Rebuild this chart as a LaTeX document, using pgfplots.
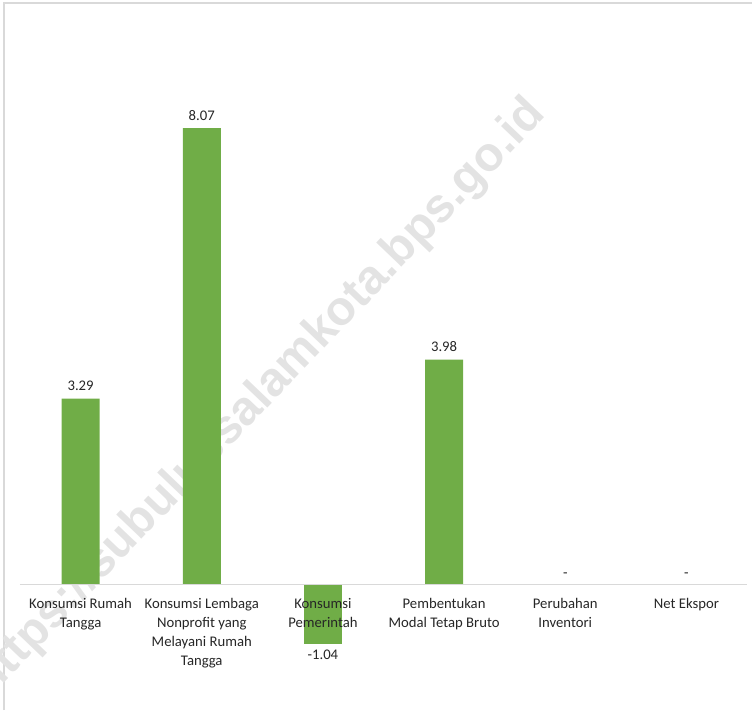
\documentclass[border=0pt]{standalone}
\usepackage{pgfplots}
\pgfplotsset{compat=1.18}
\usepackage{fontspec}
\setmainfont{Carlito}
\newfontfamily\wmfont{Liberation Sans}
\definecolor{bargreen}{HTML}{70AD47}
\definecolor{axgray}{HTML}{D9D9D9}
\definecolor{wmgray}{HTML}{E3E3E3}
\definecolor{txt}{HTML}{262626}
\begin{document}
\begin{tikzpicture}[x=1pt,y=1pt]
\path[use as bounding box] (0,0) rectangle (752,710);
% chart border (top and left)
\draw[axgray,line width=1.2pt] (4,0) -- (4,707) -- (752,707);
% watermark
\node[rotate=46.3,text=wmgray,font={\wmfont\bfseries\fontsize{48}{48}\selectfont},inner sep=0pt] at (260,{710-398}) {https://subulussalamkota.bps.go.id};
\begin{axis}[
  at={(20pt,12pt)}, anchor=south west,
  scale only axis, width=727pt, height=622.6pt,
  xmin=-0.5, xmax=5.5, ymin=-2, ymax=9,
  axis on top,
  axis x line=middle, axis y line=none,
  x axis line style={draw=axgray, line width=1pt, -},
  xtick={0,1,2,3,4,5}, ytick=\empty,
  xtick style={draw=none},
  xticklabels={{Konsumsi Rumah\\Tangga},{Konsumsi Lembaga\\Nonprofit yang\\Melayani Rumah\\Tangga},{Konsumsi\\Pemerintah},{Pembentukan\\Modal Tetap Bruto},{Perubahan\\Inventori},{Net Ekspor}},
  xticklabel style={align=center, font=\fontsize{14.7}{19}\selectfont, text=txt, anchor=north, yshift=-6pt},
  ybar, bar width=38pt,
  nodes near coords,
  point meta=explicit symbolic,
  every node near coord/.append style={font=\fontsize{14.7}{17}\selectfont, text=txt},
  clip=false,
]
\addplot[fill=bargreen, draw=none, bar shift=0pt,
  every node near coord/.append style={yshift=4pt}] table[x=x, y=y, meta=lab] {
x y lab
0 3.29 3.29
1 8.07 8.07
3 3.98 3.98
4 0 -
5 0 -
};
\addplot[fill=bargreen, draw=none, bar shift=0pt,
  every node near coord/.append style={anchor=north, yshift=-3pt}] table[x=x, y=y, meta=lab] {
x y lab
2 -1.04 -1.04
};
\end{axis}
\end{tikzpicture}
\end{document}
